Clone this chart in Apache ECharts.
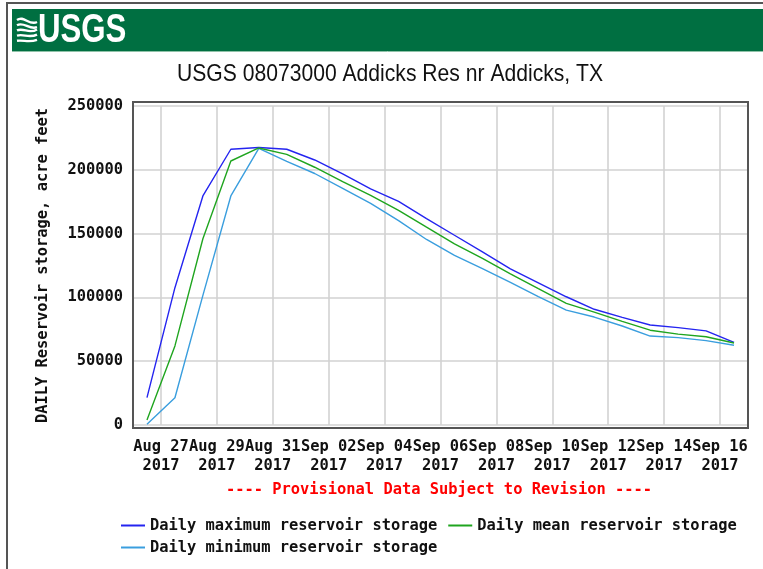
<!DOCTYPE html>
<html>
<head>
<meta charset="utf-8">
<script src="https://cdn.jsdelivr.net/npm/echarts@6/dist/echarts.min.js"></script>
<style>
html,body{margin:0;padding:0;background:#fff;}
#chart{width:763px;height:569px;}
</style>
</head>
<body>
<div id="chart"></div>
<script>
// ---- data ----
const days = ['Aug 26','Aug 27','Aug 28','Aug 29','Aug 30','Aug 31','Sep 01','Sep 02','Sep 03','Sep 04','Sep 05',
              'Sep 06','Sep 07','Sep 08','Sep 09','Sep 10','Sep 11','Sep 12','Sep 13','Sep 14','Sep 15','Sep 16'];
const maxStorage  = [21400,107600,179500,216100,217500,216100,207700,196800,185100,175200,161800,
                     148700,135700,122300,111400,100500,90700,84300,78400,76300,73800,64700];
const meanStorage = [4000,62000,146000,206900,217100,212100,202000,190800,179900,168200,155000,
                     142000,130500,118500,106800,95300,88400,81200,74300,71200,69200,64300];
const minStorage  = [500,21400,101600,179500,216800,206600,197100,185400,173700,160200,145400,
                     132900,122600,111800,100700,90000,84600,77600,69700,68500,66100,62500];
const xTickLabels = ['Aug 27\n2017','Aug 29\n2017','Aug 31\n2017','Sep 02\n2017','Sep 04\n2017','Sep 06\n2017',
                     'Sep 08\n2017','Sep 10\n2017','Sep 12\n2017','Sep 14\n2017','Sep 16\n2017'];
const yMin = 0, yMax = 250000, yStep = 50000;
const seriesNames = ['Daily maximum reservoir storage','Daily mean reservoir storage','Daily minimum reservoir storage'];
const seriesColors = ['#2424f0','#1fa51f','#3a9ede'];
const titleText = 'USGS 08073000 Addicks Res nr Addicks, TX';
const noteText = '---- Provisional Data Subject to Revision ----';
const yName = 'DAILY Reservoir storage, acre feet';

// half-day categories: each day start and noon, plus the closing day start
const cats = [];
days.forEach(d => { cats.push(d + ' 00h'); cats.push(d + ' 12h'); });
cats.push('Sep 17 00h');
const isTick = k => k >= 2 && (k - 2) % 4 === 0;
const toPairs = arr => arr.map((v, i) => [2 * i + 1, v]);

const mono = '"DejaVu Sans Mono", "Liberation Mono", monospace';
const fs = 15.4;

const chart = echarts.init(document.getElementById('chart'), null, {renderer: 'canvas'});

// simple wave icon for the header logo
const waves = [];
for (let j = 0; j < 5; j++) {
  const y0 = 20 + j * 5.2;
  waves.push({
    type: 'bezierCurve',
    shape: {x1: 17, y1: y0, x2: 37, y2: y0 + (j < 2 ? 2 : -1), cpx1: 24, cpy1: y0 - 5 + j, cpx2: 29, cpy2: y0 + 6 - j},
    style: {stroke: '#ffffff', lineWidth: 2.4, fill: null},
    z: 10
  });
}

const legendText = {fontFamily: mono, fontWeight: 'bold', fontSize: fs, color: '#111'};

const option = {
  animation: false,
  backgroundColor: '#ffffff',
  grid: {left: 133, right: 15, top: 106, bottom: 144, containLabel: false},
  xAxis: {
    type: 'category',
    data: cats,
    boundaryGap: false,
    axisLine: {show: false},
    axisTick: {show: false},
    splitLine: {show: true, interval: (k) => isTick(k), lineStyle: {color: '#d2d2d2', width: 1.6}},
    axisLabel: {
      interval: (k) => isTick(k),
      formatter: (v, k) => isTick(k) ? xTickLabels[(k - 2) / 4] : '',
      fontFamily: mono, fontWeight: 'bold', fontSize: fs, color: '#111',
      lineHeight: 19, margin: 12
    }
  },
  yAxis: {
    type: 'value',
    min: yMin, max: yMax, interval: yStep,
    name: yName,
    nameLocation: 'middle',
    nameRotate: 90,
    nameGap: 83,
    nameTextStyle: {fontFamily: mono, fontWeight: 'bold', fontSize: fs, color: '#111'},
    axisLine: {show: false},
    axisTick: {show: false},
    splitLine: {show: true, lineStyle: {color: '#d2d2d2', width: 1.6}},
    axisLabel: {
      formatter: v => String(v),
      fontFamily: mono, fontWeight: 'bold', fontSize: fs, color: '#111', margin: 10
    }
  },
  legend: [
    {
      data: [seriesNames[0], seriesNames[1]],
      left: 121, top: 518, padding: 0, orient: 'horizontal',
      icon: 'rect', itemWidth: 24, itemHeight: 2, itemGap: 11, selectedMode: false,
      textStyle: legendText
    },
    {
      data: [seriesNames[2]],
      left: 121, top: 540, padding: 0, orient: 'horizontal',
      icon: 'rect', itemWidth: 24, itemHeight: 2, itemGap: 11, selectedMode: false,
      textStyle: legendText
    }
  ],
  series: [
    {name: seriesNames[0], type: 'line', data: toPairs(maxStorage), showSymbol: false,
     lineStyle: {color: seriesColors[0], width: 1.4}, itemStyle: {color: seriesColors[0]}, z: 3},
    {name: seriesNames[1], type: 'line', data: toPairs(meanStorage), showSymbol: false,
     lineStyle: {color: seriesColors[1], width: 1.4}, itemStyle: {color: seriesColors[1]}, z: 4},
    {name: seriesNames[2], type: 'line', data: toPairs(minStorage), showSymbol: false,
     lineStyle: {color: seriesColors[2], width: 1.4}, itemStyle: {color: seriesColors[2]}, z: 2}
  ],
  graphic: [
    // page border
    {type: 'line', shape: {x1: 6, y1: 3, x2: 763, y2: 3}, style: {stroke: '#555', lineWidth: 2}, z: 1},
    {type: 'line', shape: {x1: 7, y1: 3, x2: 7, y2: 569}, style: {stroke: '#555', lineWidth: 2}, z: 1},
    // green header band
    {type: 'rect', shape: {x: 12, y: 9, width: 751, height: 42}, style: {fill: '#006f41'}, z: 1},
    {type: 'line', shape: {x1: 12, y1: 51.5, x2: 763, y2: 51.5}, style: {stroke: '#8fc2a8', lineWidth: 1}, z: 1},
    ...waves,
    {type: 'text', x: 38, y: 31, scaleX: 0.78,
     style: {text: 'USGS', fill: '#ffffff', font: 'bold 40px "Liberation Sans", Arial, sans-serif',
             textAlign: 'left', textVerticalAlign: 'middle'}, z: 10},
    // title
    {type: 'text', x: 390, y: 74, scaleX: 0.88,
     style: {text: titleText, fill: '#111', font: '24px "Liberation Sans", Arial, sans-serif',
             textAlign: 'center', textVerticalAlign: 'middle'}, z: 10},
    // provisional note
    {type: 'text', x: 439, y: 490,
     style: {text: noteText, fill: '#ff0000', font: 'bold ' + fs + 'px ' + mono,
             textAlign: 'center', textVerticalAlign: 'middle'}, z: 10},
    // plot frame
    {type: 'rect', shape: {x: 133, y: 102, width: 615, height: 326},
     style: {fill: null, stroke: '#555', lineWidth: 2}, z: 20}
  ]
};
chart.setOption(option);
</script>
</body>
</html>
